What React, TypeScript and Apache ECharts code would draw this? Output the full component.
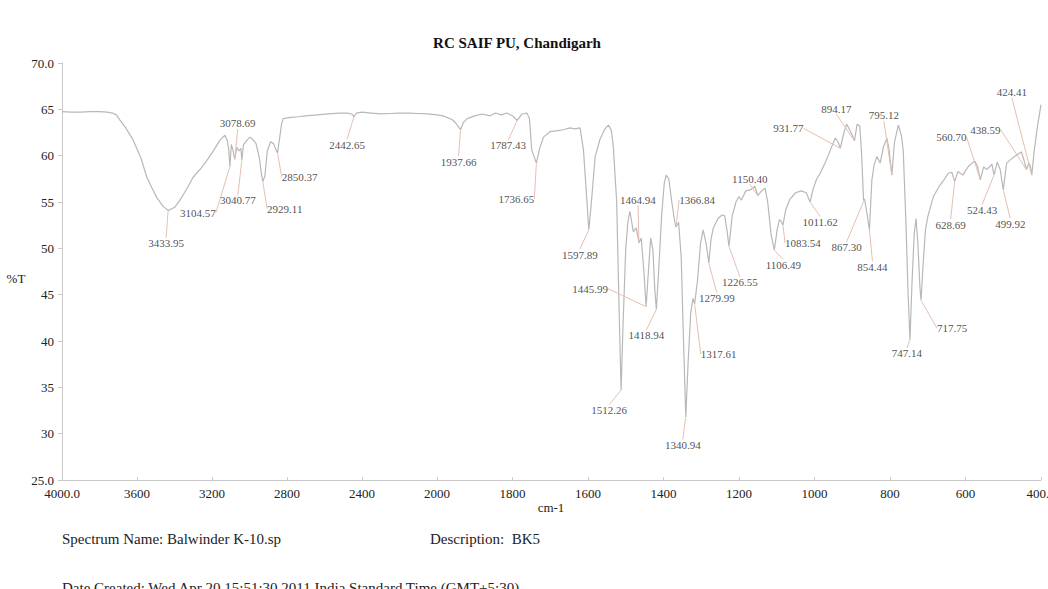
import React, { useEffect, useRef } from "react";
import * as echarts from "echarts";

// IR spectrum: [wavenumber cm-1, %T]
const spectrum: [number, number][] = [
  [4000, 64.75], [3950, 64.7], [3900, 64.7], [3850, 64.75], [3800, 64.75], [3760, 64.7], [3730, 64.6],
  [3710, 64.4], [3690, 63.8], [3660, 63.0], [3621, 61.7], [3580, 59.8], [3548, 57.7], [3520, 56.5],
  [3495, 55.5], [3460, 54.5], [3433.95, 54.1], [3400, 54.4], [3371, 55.2], [3335, 56.4], [3300, 57.7],
  [3260, 58.6], [3227, 59.5], [3190, 60.6], [3157, 61.7], [3131, 62.2], [3118, 61.6], [3110, 60.5],
  [3104.57, 58.8], [3097, 61.2], [3088, 60.6], [3078.69, 59.6], [3068, 60.9], [3055, 60.5], [3046, 60.8],
  [3040.77, 59.5], [3032, 61.2], [3012, 61.7], [2997, 62.0], [2985, 61.8], [2965, 61.3], [2948, 59.8],
  [2936, 58.0], [2929.11, 57.2], [2918, 57.8], [2905, 60.5], [2888, 61.5], [2872, 61.3], [2858, 60.6],
  [2850.37, 60.3], [2840, 61.8], [2830, 63.3], [2821, 64.0], [2790, 64.1], [2740, 64.2], [2700, 64.3],
  [2640, 64.4], [2580, 64.5], [2520, 64.6], [2480, 64.6], [2455, 64.5], [2442.65, 64.2], [2430, 64.6],
  [2400, 64.7], [2350, 64.6], [2300, 64.5], [2250, 64.55], [2200, 64.6], [2150, 64.6], [2100, 64.55],
  [2050, 64.5], [2000, 64.4],
  [1984, 64.3], [1960, 63.9], [1950, 63.5], [1937.66, 62.8], [1930, 63.6], [1920, 64.0], [1900, 64.3],
  [1880, 64.5], [1860, 64.3], [1845, 64.6], [1830, 64.4], [1815, 64.6], [1800, 64.3], [1787.43, 63.8],
  [1775, 64.5], [1762, 64.6], [1755, 64.0], [1749, 60.6], [1736.65, 59.2], [1728, 60.8], [1718, 62.0],
  [1700, 62.6], [1680, 62.7], [1665, 62.8], [1648, 63.0], [1635, 62.9], [1621, 63.0], [1612, 60.6],
  [1603, 55.2], [1597.89, 52.0], [1592, 54.5], [1581, 59.9], [1568, 61.8], [1555, 62.9], [1546, 63.3],
  [1538, 62.7], [1533, 61.0], [1524, 55.0], [1518, 44.0], [1512.26, 34.7], [1507, 42.0], [1500, 50.0],
  [1494, 53.0], [1489, 54.0], [1480, 51.8], [1472, 52.2], [1464.94, 50.6], [1459, 51.1], [1452, 47.5],
  [1445.99, 43.7], [1440, 47.5], [1434, 51.1], [1428, 49.8], [1423, 45.5], [1418.94, 43.4], [1413, 47.5],
  [1405, 53.5], [1398, 57.0], [1393, 57.9], [1386, 57.5], [1378, 55.0], [1370, 52.8], [1366.84, 52.3],
  [1360, 52.8], [1353, 49.0], [1347, 40.0], [1340.94, 31.8], [1335, 37.5], [1328, 43.0], [1322, 44.6],
  [1317.61, 44.0], [1310, 46.5], [1302, 50.5], [1295, 52.0], [1287, 50.5], [1279.99, 48.4], [1274, 51.0],
  [1268, 52.2], [1256, 53.2], [1245, 53.6], [1238, 53.5], [1232, 52.0], [1226.55, 50.2], [1218, 53.5],
  [1208, 55.0], [1200, 55.6], [1194, 55.2], [1182, 56.2], [1170, 56.3], [1158, 56.7], [1150.4, 55.7],
  [1140, 56.2], [1131, 56.5], [1124, 55.0], [1115, 51.5], [1106.49, 49.8], [1099, 52.0], [1093, 53.1],
  [1088, 52.9], [1083.54, 52.5], [1076, 54.2], [1065, 55.3], [1050, 56.0], [1035, 56.2], [1022, 56.0],
  [1011.62, 55.0], [1003, 56.5], [995, 57.4], [985, 58.1], [972, 59.2], [958, 60.6], [945, 61.9],
  [938, 61.5], [931.77, 60.8], [922, 62.5], [915, 63.4], [907, 62.8], [900, 62.2], [894.17, 61.6],
  [887, 63.4], [880, 63.2], [875, 60.0], [870, 55.2], [867.3, 55.3], [862, 54.0], [854.44, 52.0],
  [848, 57.4], [842, 59.0], [835, 59.9], [826, 59.2], [817, 61.0], [808, 61.9], [802, 60.5],
  [795.12, 57.9], [788, 61.5], [778, 63.3], [770, 62.2], [765, 60.6], [758, 53.0], [752, 45.0],
  [747.14, 40.1], [742, 46.0], [736, 51.5], [731, 53.2], [726, 50.5], [721, 46.0], [717.75, 44.4],
  [712, 48.5], [706, 52.0], [700, 53.4], [685, 55.6], [668, 56.8], [655, 57.5], [646, 58.1], [636, 58.2],
  [628.69, 57.2], [620, 58.3], [607, 57.9], [593, 58.8], [583, 59.2], [575, 59.4], [568, 58.8],
  [560.7, 57.4], [552, 58.8], [544, 58.5], [536, 58.8], [530, 59.1], [524.43, 57.9], [516, 59.3],
  [508, 58.5], [499.92, 56.3], [491, 59.2], [480, 59.6], [470, 59.9], [460, 60.2], [452, 60.4],
  [445, 59.5], [438.59, 58.5], [432, 59.2], [428, 58.8], [424.41, 57.9], [418, 60.5], [410, 63.0],
  [400, 65.5],
];

// Peak picks: [wavenumber, %T]
const peaks: [number, number][] = [
  [3433.95, 54.1], [3104.57, 58.8], [3078.69, 59.6], [3040.77, 59.5], [2929.11, 57.2], [2850.37, 60.3],
  [2442.65, 64.2], [1937.66, 62.8], [1787.43, 63.8], [1736.65, 59.2], [1597.89, 52.0], [1512.26, 34.7],
  [1464.94, 50.6], [1445.99, 43.7], [1418.94, 43.4], [1366.84, 52.3], [1340.94, 31.8], [1317.61, 44.0],
  [1279.99, 48.4], [1226.55, 50.2], [1150.4, 55.7], [1106.49, 49.8], [1083.54, 52.5], [1011.62, 55.0],
  [931.77, 60.8], [894.17, 61.6], [867.3, 55.3], [854.44, 52.0], [795.12, 57.9], [747.14, 40.1],
  [717.75, 44.4], [628.69, 57.2], [560.7, 57.4], [524.43, 57.9], [499.92, 56.3], [438.59, 58.5],
  [424.41, 57.9],
];

// Label offsets (px) from each peak, same order as peaks
const labelOffsets: [number, number][] = [
  [-2, 33], [-32, 46], [3, -36], [-4, 40], [22, 27], [22, 24],
  [-7, 28], [-2, 32], [-9, 25], [-20, 36], [-9, 25], [-12, 20],
  [-1, -43], [-56, -18], [-10, 26], [21, -27], [-3, 28], [24, 50],
  [8, 35], [11, 36], [-8, -17], [9, 15], [20, 18], [10, 20],
  [-52, -20], [-18, -32], [-18, 48], [3, 37], [-8, -60], [-3, 13],
  [31, 28], [-4, 43], [-29, -43], [-12, 35], [7, 34], [-41, -40],
  [-20, -83],
];

const BREAK = 2000;
const FONT = "'Liberation Serif', 'Times New Roman', serif";

export default function App() {
  const ref = useRef<HTMLDivElement>(null);

  useEffect(() => {
    if (!ref.current) return;
    const chart = echarts.init(ref.current, undefined, { renderer: "svg" });

    const highPart = spectrum.filter((p) => p[0] >= BREAK);
    const lowPart = spectrum.filter((p) => p[0] <= BREAK);

    const highIdx: number[] = [];
    const lowIdx: number[] = [];
    peaks.forEach((p, i) => (p[0] > BREAK ? highIdx : lowIdx).push(i));

    const mkScatter = (idx: number[], axis: number) => ({
      type: "scatter",
      xAxisIndex: axis,
      yAxisIndex: axis,
      symbolSize: 1,
      itemStyle: { color: "rgba(0,0,0,0)" },
      z: 5,
      data: idx.map((i) => ({ value: peaks[i], name: peaks[i][0].toFixed(2) })),
      label: {
        show: true,
        position: "inside",
        formatter: "{b}",
        color: "#222",
        fontSize: 11,
        fontFamily: FONT,
      },
      labelLine: { show: true, lineStyle: { color: "#e7bfb2", width: 1 } },
      labelLayout: (params: any) => {
        const o = labelOffsets[idx[params.dataIndex]];
        return { dx: o[0], dy: o[1] };
      },
    });

    const axisLabelStyle = { color: "#222", fontSize: 13, fontFamily: FONT };
    const axisLineStyle = { lineStyle: { color: "#c9c9c9", width: 1 } };

    chart.setOption({
      animation: false,
      backgroundColor: "#ffffff",
      grid: [
        { left: 62, top: 63, width: 375, height: 417, outerBoundsMode: "none", containLabel: false },
        { left: 437, top: 63, width: 604, height: 417, outerBoundsMode: "none", containLabel: false },
      ],
      xAxis: [
        {
          type: "value",
          gridIndex: 0,
          min: 2000,
          max: 4000,
          interval: 400,
          inverse: true,
          axisLine: axisLineStyle,
          axisTick: { show: true, inside: true, length: 3, lineStyle: { color: "#c9c9c9" } },
          splitLine: { show: false },
          axisLabel: {
            ...axisLabelStyle,
            margin: 7,
            showMinLabel: true,
            showMaxLabel: true,
            formatter: (v: number) => (v === 4000 ? "4000.0" : v === 2000 ? "" : String(v)),
          },
        },
        {
          type: "value",
          gridIndex: 1,
          min: 400,
          max: 2000,
          interval: 200,
          inverse: true,
          axisLine: axisLineStyle,
          axisTick: { show: true, inside: true, length: 3, lineStyle: { color: "#c9c9c9" } },
          splitLine: { show: false },
          axisLabel: {
            ...axisLabelStyle,
            margin: 7,
            showMinLabel: true,
            showMaxLabel: true,
            formatter: (v: number) => (v === 400 ? "400.0" : String(v)),
          },
        },
      ],
      yAxis: [
        {
          type: "value",
          gridIndex: 0,
          min: 25,
          max: 70,
          interval: 5,
          axisLine: { show: true, ...axisLineStyle },
          axisTick: { show: true, length: 4, lineStyle: { color: "#c9c9c9" } },
          splitLine: { show: false },
          axisLabel: {
            ...axisLabelStyle,
            margin: 8,
            formatter: (v: number) => (v === 70 || v === 25 ? v.toFixed(1) : String(v)),
          },
        },
        {
          type: "value",
          gridIndex: 1,
          min: 25,
          max: 70,
          interval: 5,
          show: false,
        },
      ],
      series: [
        {
          type: "line",
          xAxisIndex: 0,
          yAxisIndex: 0,
          data: highPart,
          showSymbol: false,
          lineStyle: { color: "#b8b8b8", width: 1.2 },
          z: 3,
        },
        {
          type: "line",
          xAxisIndex: 1,
          yAxisIndex: 1,
          data: lowPart,
          showSymbol: false,
          lineStyle: { color: "#b8b8b8", width: 1.2 },
          z: 3,
        },
        mkScatter(highIdx, 0),
        mkScatter(lowIdx, 1),
      ],
      graphic: [
        {
          type: "text",
          x: 517,
          y: 43,
          style: {
            text: "RC SAIF PU, Chandigarh",
            fill: "#111",
            font: `bold 15px ${FONT}`,
            align: "center",
            verticalAlign: "middle",
          },
        },
        {
          type: "text",
          x: 16,
          y: 278,
          style: { text: "%T", fill: "#222", font: `13px ${FONT}`, align: "center", verticalAlign: "middle" },
        },
        {
          type: "text",
          x: 551,
          y: 507,
          style: { text: "cm-1", fill: "#222", font: `13px ${FONT}`, align: "center", verticalAlign: "middle" },
        },
        {
          type: "text",
          x: 62,
          y: 539,
          style: {
            text: "Spectrum Name: Balwinder K-10.sp",
            fill: "#222",
            font: `15px ${FONT}`,
            align: "left",
            verticalAlign: "middle",
          },
        },
        {
          type: "text",
          x: 430,
          y: 539,
          style: {
            text: "Description:  BK5",
            fill: "#222",
            font: `15px ${FONT}`,
            align: "left",
            verticalAlign: "middle",
          },
        },
        {
          type: "text",
          x: 62,
          y: 588,
          style: {
            text: "Date Created: Wed Apr 20 15:51:30 2011 India Standard Time (GMT+5:30)",
            fill: "#222",
            font: `15px ${FONT}`,
            align: "left",
            verticalAlign: "middle",
          },
        },
      ],
    });

    return () => chart.dispose();
  }, []);

  return (
    <div
      ref={ref}
      style={{ position: "absolute", left: 0, top: 0, width: 1048, height: 589, overflow: "hidden" }}
    />
  );
}
